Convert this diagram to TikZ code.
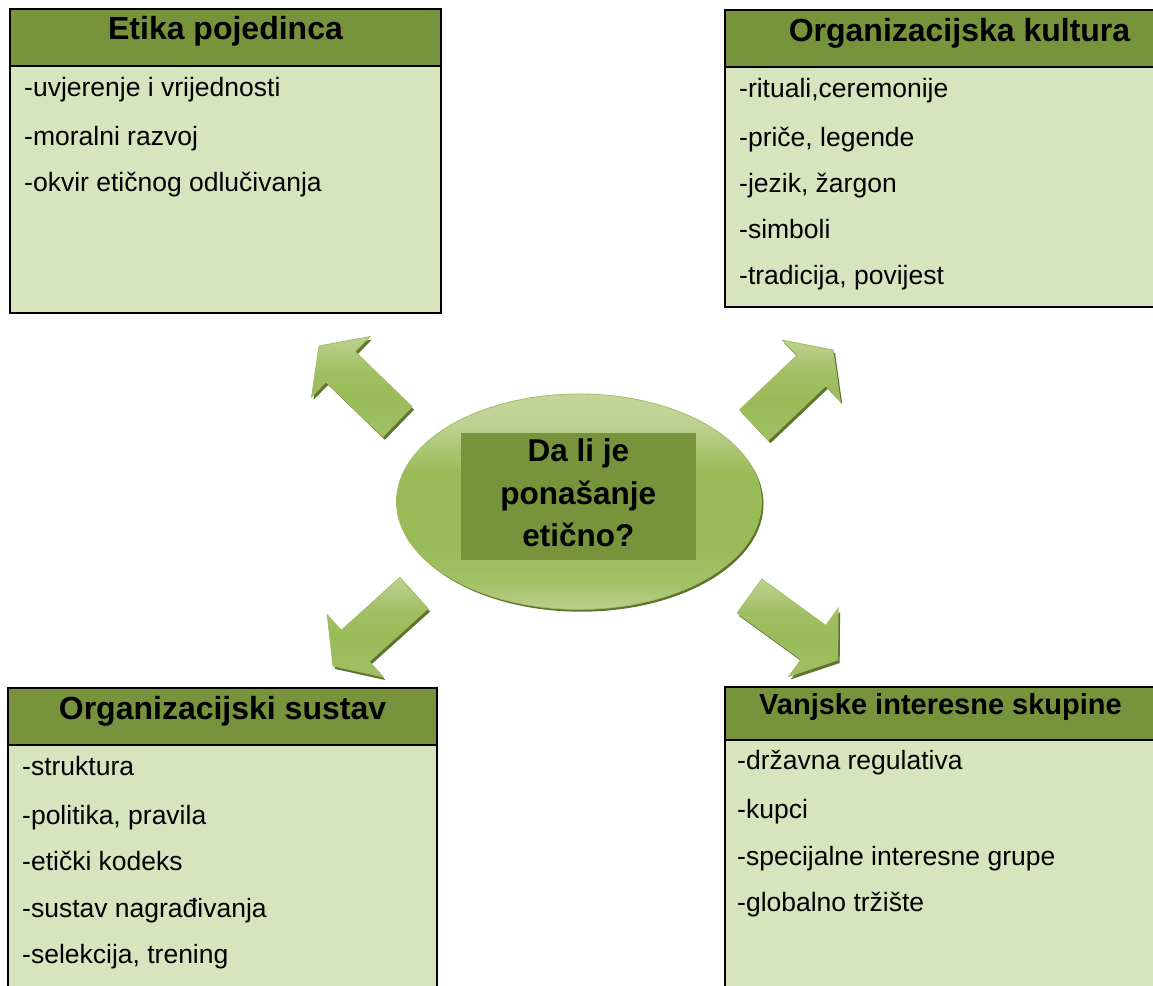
\documentclass[tikz,border=0pt]{standalone}
\usepackage{fontspec}
\setmainfont{Liberation Sans}
\usetikzlibrary{shapes.geometric}
\definecolor{headgreen}{HTML}{77933C}
\definecolor{bodygreen}{HTML}{D7E4BD}
\definecolor{lightgreen}{HTML}{C3D69B}
\definecolor{midgreen}{HTML}{9BBB59}
\definecolor{darkolive}{HTML}{5E7530}
\pgfdeclareverticalshading{ellshade}{100bp}{color(0bp)=(lightgreen!80!midgreen); color(25bp)=(lightgreen!80!midgreen); color(31bp)=(midgreen!80!lightgreen); color(40bp)=(midgreen); color(57bp)=(midgreen); color(68bp)=(lightgreen!85!midgreen); color(75bp)=(lightgreen); color(100bp)=(lightgreen)}
\pgfdeclareverticalshading{arrshade}{100bp}{color(0bp)=(midgreen!85!lightgreen); color(25bp)=(midgreen!85!lightgreen); color(45bp)=(midgreen); color(58bp)=(midgreen!85!lightgreen); color(75bp)=(lightgreen!85!midgreen); color(100bp)=(lightgreen!85!midgreen)}
\tikzstyle{box}=[rectangle, draw=black, line width=2pt, fill=bodygreen, inner sep=0pt, outer sep=0pt, anchor=north west]
\tikzstyle{headbox}=[box, fill=headgreen]
\tikzstyle{headtxt}=[inner sep=0pt, anchor=base, font=\fontsize{32}{38}\selectfont\bfseries]
\tikzstyle{item}=[inner sep=0pt, anchor=base west, font=\fontsize{26.5}{32}\selectfont]
\tikzstyle{bigarrow}=[draw=midgreen!90!lightgreen, line width=0.8pt, shading=arrshade]

\begin{document}
\begin{tikzpicture}[x=1pt,y=1pt]
   \useasboundingbox (0,0) rectangle (1153,985);
   \clip (0,0) rectangle (1153,985);

   % gornji lijevi okvir
   \node[box, minimum width=431pt, minimum height=304pt] (e) at (10,975.7) {};
   \node[headbox, minimum width=431pt, minimum height=56.4pt] (eh) at (e.north west) {};
   \node[headtxt] (et) at (225.5,945.7) {Etika pojedinca};
   \foreach \t [count=\i] in {{-uvjerenje i vrijednosti},{-moralni razvoj},{-okvir etičnog odlučivanja}}
      \node[item] (e\i) at (24,{888-49*min(\i-1,1)-46*max(\i-2,0)}) {\t};

   % gornji desni okvir
   \node[box, minimum width=469pt, minimum height=297pt] (k) at (725,975) {};
   \node[headbox, minimum width=469pt, minimum height=56.7pt] (kh) at (k.north west) {};
   \node[headtxt] (kt) at (959.5,943.3) {Organizacijska kultura};
   \foreach \t [count=\i] in {{-rituali,ceremonije},{-priče, legende},{-jezik, žargon},{-simboli},{-tradicija, povijest}}
      \node[item] (k\i) at (739,{887-49*min(\i-1,1)-46*max(\i-2,0)}) {\t};

   % donji lijevi okvir
   \node[box, minimum width=429.6pt, minimum height=310pt] (s) at (7.7,297.3) {};
   \node[headbox, minimum width=429.6pt, minimum height=57pt] (sh) at (s.north west) {};
   \node[headtxt] (st) at (222.5,265) {Organizacijski sustav};
   \foreach \t [count=\i] in {{-struktura},{-politika, pravila},{-etički kodeks},{-sustav nagrađivanja},{-selekcija, trening}}
      \node[item] (s\i) at (22,{209-49*min(\i-1,1)-46*max(\i-2,0)}) {\t};

   % donji desni okvir
   \node[box, minimum width=440pt, minimum height=310pt] (v) at (724.7,297.7) {};
   \node[headbox, minimum width=440pt, minimum height=52.7pt] (vh) at (v.north west) {};
   \node[headtxt, font=\fontsize{29}{35}\selectfont\bfseries] (vt) at (940.5,270) {Vanjske interesne skupine};
   \foreach \t [count=\i] in {{-državna regulativa},{-kupci},{-specijalne interesne grupe},{-globalno tržište}}
      \node[item] (v\i) at (737,{215-49*min(\i-1,1)-46*max(\i-2,0)}) {\t};

   % sredina
   \node[ellipse, fill=darkolive, inner sep=0pt, minimum width=365pt, minimum height=215.4pt] (qs) at (581,481) {};
   \node[ellipse, draw=midgreen!90!lightgreen, line width=0.8pt, shading=ellshade,
         inner sep=0pt, minimum width=365pt, minimum height=215.4pt] (q) at (579,483.3) {};
   \node[rectangle, fill=headgreen, inner sep=0pt, minimum width=234.7pt, minimum height=127.3pt] (r) at (578.3,488.7) {};
   \node[align=center, inner sep=0pt, font=\fontsize{31.5}{42.5}\selectfont\bfseries] (qt) at ([yshift=3.4pt]r.center) {Da li je\\ponašanje\\etično?};

   % strelice
   \foreach \x/\y/\a in {397.5/563.3/136, 754/560/43.5, 414/392/222, 749.5/389/-36} {
      \fill[darkolive, shift={(\x+2,\y-3)}, rotate=\a] (0,21) -- (79,21) -- (79,42) -- (109,0) -- (79,-42) -- (79,-21) -- (0,-21) -- cycle;
      \shade[bigarrow, shift={(\x,\y)}, rotate=\a] (0,21) -- (79,21) -- (79,42) -- (109,0) -- (79,-42) -- (79,-21) -- (0,-21) -- cycle;
   }
\end{tikzpicture}
\end{document}
